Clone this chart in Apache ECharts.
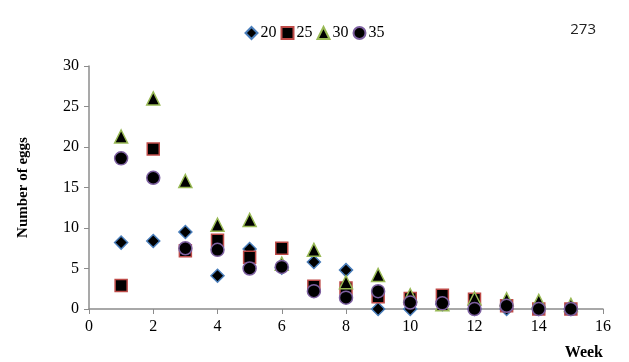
<!DOCTYPE html>
<html><head><meta charset="utf-8">
<script src="https://cdn.jsdelivr.net/npm/echarts@6/dist/echarts.min.js"></script>
<style>html,body{margin:0;padding:0;background:#fff}#c{width:629px;height:362px}</style>
</head><body><div id="c"></div>
<script>
const weeks = [1,2,3,4,5,6,7,8,9,10,11,12,13,14,15];
const s20 = [8.2,8.4,9.5,4.1,7.4,5.1,5.8,4.8,0,0,0.6,0,0,0,0];
const s25 = [2.9,19.75,7.2,8.5,6.4,7.5,2.8,2.6,1.5,1.3,1.7,1.2,0.4,0,0];
const s30 = [21.3,26,15.8,10.4,11,5.6,7.3,3.3,4.2,1.7,0.6,1.3,1.2,1.0,0.5];
const s35 = [18.6,16.2,7.5,7.3,5.0,5.2,2.2,1.4,2.2,0.8,0.7,0,0.4,0,0];
const names = ['20','25','30','35'];
const xTicks = [0,2,4,6,8,10,12,14,16];
const yTicks = [0,5,10,15,20,25,30];

const pts = arr => weeks.map((w,i)=>[w,arr[i]]);
const serif = "'Liberation Serif', 'Times New Roman', serif";
const defs = [
  {d:s20, sym:'diamond', size:13, col:'#4a7ebb'},
  {d:s25, sym:'rect', size:12, col:'#be4b48'},
  {d:s30, sym:'triangle', size:13, col:'#98b954'},
  {d:s35, sym:'circle', size:13, col:'#7d60a0'}
];
const chart = echarts.init(document.getElementById('c'));
chart.setOption({
  animation:false,
  textStyle:{fontFamily:serif},
  grid:{left:89,right:26,top:66,bottom:53},
  legend:{
    top:20, left:'center', itemGap:4, itemWidth:12, itemHeight:12,
    textStyle:{fontFamily:serif,fontSize:16,color:'#000',padding:[0,0,0,-2]},
    data:names
  },
  title:{text:'273',right:28,top:17,textStyle:{fontFamily:'Open Sans',fontSize:15,fontWeight:'normal',color:'#222'}},
  xAxis:{
    type:'value',min:0,max:16,interval:2,
    name:'Week',nameLocation:'end',nameGap:0,
    nameTextStyle:{fontFamily:serif,fontWeight:'bold',fontSize:16,color:'#000',align:'right',verticalAlign:'top',padding:[36,0,0,0]},
    axisLine:{lineStyle:{color:'#8c8c8c',width:1.5}},
    axisTick:{show:true,inside:false,length:5,lineStyle:{color:'#8c8c8c'}},
    axisLabel:{fontFamily:serif,fontSize:16,color:'#000',margin:10,
      formatter:v=>xTicks.includes(v)?String(v):''},
    splitLine:{show:false}
  },
  yAxis:{
    type:'value',min:0,max:30,interval:5,
    name:'Number of eggs',nameLocation:'middle',nameGap:58,nameRotate:90,
    nameTextStyle:{fontFamily:serif,fontWeight:'bold',fontSize:15,color:'#000'},
    axisLine:{show:true,lineStyle:{color:'#8c8c8c',width:1.5}},
    axisTick:{show:true,inside:false,length:5,lineStyle:{color:'#8c8c8c'}},
    axisLabel:{fontFamily:serif,fontSize:16,color:'#000',margin:10,
      formatter:v=>yTicks.includes(v)?String(v):''},
    splitLine:{show:false}
  },
  series: defs.map((s,i)=>({
    name:names[i], type:'scatter', data:pts(s.d), symbol:s.sym, symbolSize:s.size,
    itemStyle:{color:'#000',borderColor:s.col,borderWidth:1.5,opacity:1},
    z:2+i
  }))
});
</script></body></html>
